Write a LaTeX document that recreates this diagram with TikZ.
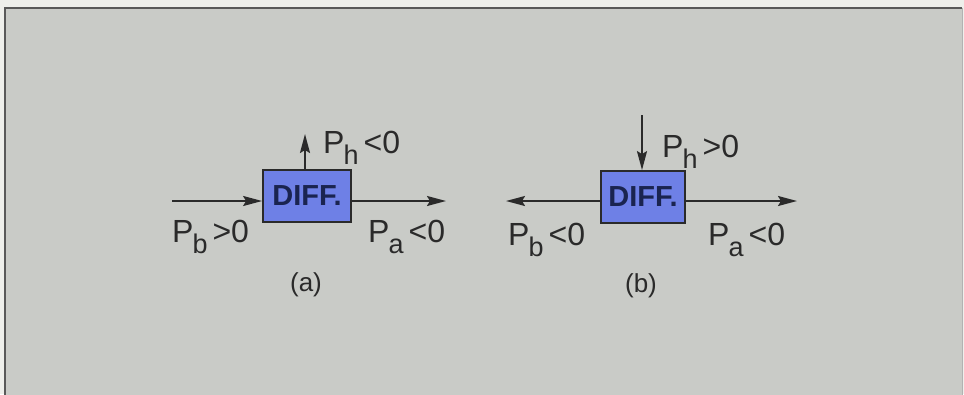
\documentclass[tikz,border=0pt]{standalone}
\usepackage{fontspec}
\setmainfont{Liberation Sans}
\usetikzlibrary{arrows.meta}
\definecolor{panel}{HTML}{C9CBC7}
\definecolor{paper}{HTML}{EEEFEB}
\definecolor{boxblue}{HTML}{6E80E6}
\definecolor{ink}{HTML}{2A2A2A}
\definecolor{navy}{HTML}{1A2450}
\newcommand{\lbl}[2]{\fontsize{32}{32}\selectfont P\kern-1pt\raisebox{-11pt}{\fontsize{27}{27}\selectfont #1}\kern5pt#2}
\begin{document}
\begin{tikzpicture}[x=1pt,y=-1pt,
  diffbox/.style={draw=ink,line width=1.8pt,fill=boxblue,minimum width=88pt,minimum height=52pt,inner sep=0pt,
     font=\fontsize{29}{29}\selectfont\bfseries,text=navy},
  flow/.style={draw=ink,line width=2pt,-{Stealth[length=19pt,width=10pt,inset=3pt]}},
  lab/.style={anchor=base west,inner sep=0pt,text=ink},
  figcap/.style={anchor=base,inner sep=0pt,text=ink,font=\fontsize{26}{26}\selectfont}]
\useasboundingbox (0,0) rectangle (964,394);
\fill[paper] (0,0) rectangle (964,394);
\fill[panel] (5,8) rectangle (962,400);
\draw[line width=2pt,draw=black!65] (5,400) -- (5,8) -- (962,8);
\draw[line width=1pt,draw=black!30] (962,8) -- (962,400);
% (a)
\node[diffbox] (boxA) at (307,196) {DIFF.};
\coordinate (aL) at (172,201);
\coordinate (aR) at (446,201);
\coordinate (aU) at (305,134);
\draw[flow] (aL) -- (aL -| boxA.west);
\draw[flow] (aR -| boxA.east) -- (aR);
\draw[flow] (aU |- boxA.north) -- (aU);
\node[lab] (ah) at (323,153) {\lbl{h}{<0}};
\node[lab] (ab) at (172,242) {\lbl{b}{>0}};
\node[lab] (aa) at (368,242) {\lbl{a}{<0}};
\node[figcap] (capA) at (306,291) {(a)};
% (b)
\node[diffbox,minimum width=84pt] (boxB) at (643,197) {DIFF.};
\coordinate (bL) at (506,201);
\coordinate (bR) at (797,201);
\coordinate (bU) at (642,115);
\draw[flow] (bL -| boxB.west) -- (bL);
\draw[flow] (bR -| boxB.east) -- (bR);
\draw[flow] (bU) -- (bU |- boxB.north);
\node[lab] (bh) at (662,157) {\lbl{h}{>0}};
\node[lab] (bb) at (508,245) {\lbl{b}{<0}};
\node[lab] (ba) at (708,245) {\lbl{a}{<0}};
\node[figcap] (capB) at (641,292) {(b)};
\end{tikzpicture}
\end{document}
